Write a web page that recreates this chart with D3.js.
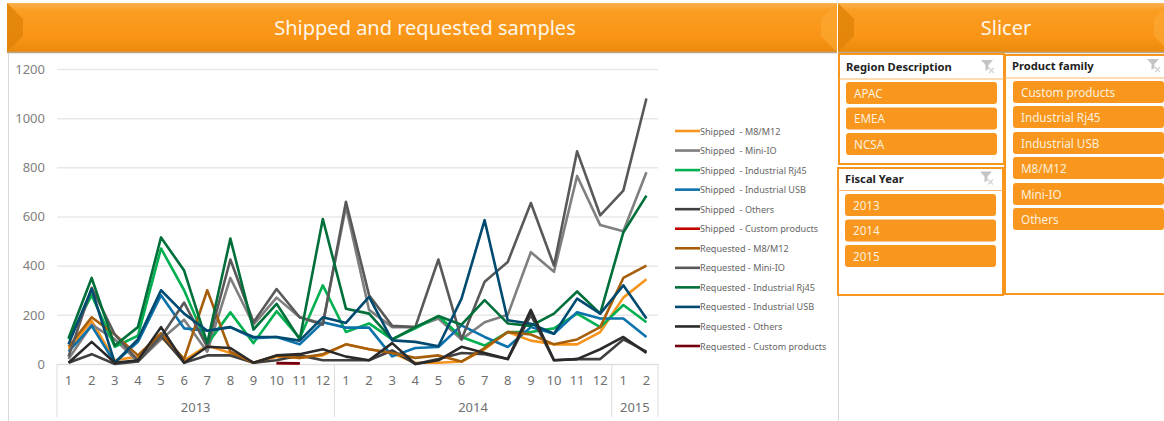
<!DOCTYPE html>
<html lang="en">
<head>
<meta charset="UTF-8">
<script src="https://d3js.org/d3.v7.min.js"></script>
<title>Shipped and requested samples</title>
<style>
  html, body { margin: 0; padding: 0; background: #fff; overflow: hidden; }
  text { font-family: "Noto Sans", sans-serif; }
</style>
</head>
<body>
<svg id="plot" width="1164" height="421"></svg>
<script>
// values
const years = ["2013", "2014", "2015"];
const months = [12, 12, 2];
const yTicks = [0, 200, 400, 600, 800, 1000, 1200];

const shippedM8 = [60, 175, 15, 30, 110, 15, 75, 45, 5, 30, 25, 35, 80, 60, 45, 5, 5, 10, 60, 130, 95, 80, 80, 130, 270, 345];
const shippedMini = [20, 160, 100, 10, 100, 180, 50, 350, 160, 270, 190, 165, 640, 220, 150, 150, 185, 100, 170, 200, 455, 375, 765, 565, 540, 780];
const shippedRj45 = [100, 280, 70, 115, 470, 300, 80, 210, 85, 215, 105, 320, 130, 165, 100, 145, 195, 110, 75, 130, 130, 145, 205, 150, 240, 170];
const shippedUsb = [50, 155, 5, 90, 280, 145, 135, 150, 105, 110, 80, 170, 148, 148, 31, 65, 69, 157, 110, 69, 150, 123, 211, 185, 185, 110];
const shippedOthers = [5, 40, 0, 10, 115, 5, 35, 35, 5, 15, 35, 15, 15, 15, 55, 0, 20, 45, 40, 20, 200, 15, 20, 20, 100, 50];
const shippedCustom = [null, null, null, null, null, null, null, null, null, 3, 2, null, null, null, null, null, null, null, null, null, null, null, null, null, null, null];
const requestedM8 = [70, 190, 120, 35, 125, 20, 300, 50, 5, 35, 25, 40, 80, 60, 45, 25, 35, 10, 65, 130, 120, 80, 100, 150, 350, 400];
const requestedMini = [30, 310, 120, 15, 110, 250, 70, 425, 170, 305, 190, 160, 660, 280, 155, 150, 425, 100, 335, 415, 655, 400, 865, 605, 705, 1080];
const requestedRj45 = [105, 350, 75, 150, 515, 380, 85, 510, 140, 245, 100, 590, 225, 205, 100, 150, 195, 160, 260, 165, 155, 205, 295, 205, 535, 685];
const requestedUsb = [80, 305, 5, 100, 300, 205, 135, 150, 110, 110, 95, 190, 167, 273, 96, 90, 72, 266, 585, 178, 164, 123, 266, 205, 320, 185];
const requestedOthers = [5, 90, 5, 15, 150, 5, 70, 65, 5, 35, 40, 60, 30, 15, 85, 0, 15, 70, 45, 20, 220, 15, 20, 60, 110, 45];
const requestedCustom = [null, null, null, null, null, null, null, null, null, 4, 3, null, null, null, null, null, null, null, null, null, null, null, null, null, null, null];

const seriesNames = ["Shipped  - M8/M12", "Shipped  - Mini-IO", "Shipped  - Industrial Rj45", "Shipped  - Industrial USB", "Shipped  - Others", "Shipped  - Custom products",
  "Requested - M8/M12", "Requested - Mini-IO", "Requested - Industrial Rj45", "Requested - Industrial USB", "Requested - Others", "Requested - Custom products"];
const seriesValues = [shippedM8, shippedMini, shippedRj45, shippedUsb, shippedOthers, shippedCustom,
  requestedM8, requestedMini, requestedRj45, requestedUsb, requestedOthers, requestedCustom];
const seriesColors = ["#f7941d", "#7f7f7f", "#00b050", "#0b72ab", "#404040", "#c00000",
  "#a65e0a", "#595959", "#006f3a", "#004a70", "#2a2a2a", "#720010"];

const regions = ["APAC", "EMEA", "NCSA"];
const fiscalYears = ["2013", "2014", "2015"];
const families = ["Custom products", "Industrial Rj45", "Industrial USB", "M8/M12", "Mini-IO", "Others"];

const orange = "#f9961e";
const svg = d3.select("#plot");
const defs = svg.append("defs");

const grad = defs.append("linearGradient").attr("id", "head").attr("x1", 0).attr("x2", 0).attr("y1", 0).attr("y2", 1);
grad.append("stop").attr("offset", "0").attr("stop-color", "#fbb050");
grad.append("stop").attr("offset", "0.15").attr("stop-color", "#fb9d22");
grad.append("stop").attr("offset", "0.7").attr("stop-color", "#f99515");
grad.append("stop").attr("offset", "1").attr("stop-color", "#ea8a0c");

// panel frame lines
svg.append("line").attr("x1", 8.5).attr("x2", 8.5).attr("y1", 53).attr("y2", 421).attr("stroke", "#d9d9d9");
svg.append("line").attr("x1", 838.5).attr("x2", 838.5).attr("y1", 295).attr("y2", 421).attr("stroke", "#d9d9d9");

function header(x0, x1, label, labelX) {
  const g = svg.append("g");
  const y0 = 3, y1 = 52, b = 16;
  g.append("rect").attr("x", x0).attr("y", y0).attr("width", x1 - x0).attr("height", y1 - y0).attr("fill", "url(#head)");
  g.append("path").attr("d", `M${x0},${y0}L${x0 + b},${y0 + b}V${y1 - b}L${x0},${y1}Z`).attr("fill", "#e08408").attr("opacity", 0.85);
  g.append("path").attr("d", `M${x1},${y0}L${x1 - b},${y0 + b}V${y1 - b}L${x1},${y1}Z`).attr("fill", "#fba52f").attr("opacity", 0.8);
  g.append("line").attr("x1", x0).attr("x2", x1).attr("y1", y1 + 0.5).attr("y2", y1 + 0.5).attr("stroke", "#b9a68c").attr("stroke-width", 1.5);
  g.append("text").attr("x", labelX).attr("y", 35).attr("text-anchor", "middle")
    .attr("fill", "#fff6e8").attr("font-size", 20).text(label);
}
header(7, 837, "Shipped and requested samples", 425);
header(838, 1170, "Slicer", 1006);

// chart
const monthKeys = [];
years.forEach((yr, i) => d3.range(1, months[i] + 1).forEach(m => monthKeys.push(yr + "-" + m)));

const x = d3.scaleBand().domain(monthKeys).range([57, 658]);
const y = d3.scaleLinear().domain([0, 1200]).range([364, 69]);

const yAxis = d3.axisLeft(y).tickValues(yTicks).tickSize(-601).tickPadding(12).tickFormat(d3.format("d"));
svg.append("g").attr("transform", "translate(57,0)").call(yAxis)
  .call(g => g.select(".domain").remove())
  .call(g => g.selectAll(".tick line").attr("stroke", "#e8e8e8").attr("stroke-width", 1.5))
  .call(g => g.selectAll(".tick text").attr("fill", "#7f7f7f").attr("font-size", 13));

const xAxis = d3.axisBottom(x).tickSize(0).tickPadding(12).tickFormat(d => d.split("-")[1]);
svg.append("g").attr("transform", "translate(0,364)").call(xAxis)
  .call(g => g.select(".domain").attr("stroke", "#dcdcdc"))
  .call(g => g.selectAll(".tick text").attr("fill", "#6f6f6f").attr("font-size", 13));

// year level of the axis
let start = 0;
const sepX = [57];
years.forEach((yr, i) => {
  const left = x(monthKeys[start]);
  const right = x(monthKeys[start + months[i] - 1]) + x.bandwidth();
  sepX.push(right);
  svg.append("text").attr("x", (left + right) / 2).attr("y", 412).attr("text-anchor", "middle")
    .attr("fill", "#6f6f6f").attr("font-size", 13).text(yr);
  start += months[i];
});
svg.selectAll(".sep").data(sepX).enter().append("line").attr("class", "sep")
  .attr("x1", d => d).attr("x2", d => d).attr("y1", 364).attr("y2", 417).attr("stroke", "#dcdcdc");

const line = d3.line().defined(d => d != null).x((d, i) => x(monthKeys[i]) + x.bandwidth() / 2).y(d => y(d));
svg.append("g").selectAll("path").data(seriesValues).enter().append("path")
  .attr("d", d => line(d)).attr("fill", "none")
  .attr("stroke", (d, i) => seriesColors[i]).attr("stroke-width", 2.6)
  .attr("stroke-linejoin", "round");

// legend
const legendY = d3.scalePoint().domain(seriesNames).range([131, 346]);
const legend = svg.append("g").selectAll("g").data(seriesNames).enter().append("g")
  .attr("transform", d => `translate(675,${legendY(d)})`);
legend.append("line").attr("x2", 25).attr("stroke", (d, i) => seriesColors[i]).attr("stroke-width", 2.6);
legend.append("text").attr("x", 25).attr("y", 3.5).attr("fill", "#666").attr("font-size", 9.1)
  .attr("xml:space", "preserve").text(d => d);

// slicers
function slicer(box, title, items, btn) {
  const g = svg.append("g");
  g.append("rect").attr("x", box.x).attr("y", box.y).attr("width", box.w).attr("height", box.h)
    .attr("fill", "#fff").attr("stroke", orange).attr("stroke-width", 2);
  g.append("line").attr("x1", box.x).attr("x2", box.x + box.w).attr("y1", box.line).attr("y2", box.line)
    .attr("stroke", "#fbb869").attr("stroke-width", 1.2);
  g.append("text").attr("x", box.x + 7).attr("y", box.line - 8).attr("fill", "#222")
    .attr("font-size", 11.2).attr("font-weight", 700).text(title);
  // clear filter icon
  const ix = box.iconX, iy = box.line - 19;
  g.append("path").attr("d", `M${ix},${iy}h12l-4.5,5v4l-3,2v-6Z`).attr("fill", "#c4c4c4");
  g.append("path").attr("d", `M${ix + 8},${iy + 8}l5,5m0,-5l-5,5`).attr("stroke", "#d4d4d4").attr("stroke-width", 1.4);
  const b = g.selectAll("g").data(items).enter().append("g");
  b.append("rect").attr("x", btn.x).attr("y", (d, i) => btn.y[i]).attr("width", btn.w).attr("height", 22)
    .attr("rx", 3).attr("fill", orange);
  b.append("text").attr("x", btn.x + 8).attr("y", (d, i) => btn.y[i] + 15.5).attr("fill", "#fdf0dc")
    .attr("font-size", 11.7).text(d => d);
}
slicer({x: 839, y: 54, w: 165, h: 110, line: 79, iconX: 981}, "Region Description", regions,
  {x: 846, w: 151, y: [82, 107.5, 133]});
slicer({x: 838, y: 168, w: 165, h: 127, line: 190.5, iconX: 980}, "Fiscal Year", fiscalYears,
  {x: 845, w: 151, y: [194, 219.5, 245]});
slicer({x: 1005, y: 55, w: 171, h: 239, line: 78, iconX: 1147}, "Product family", families,
  {x: 1013, w: 151, y: [81, 106, 132, 157, 183, 208]});
</script>
</body>
</html>
